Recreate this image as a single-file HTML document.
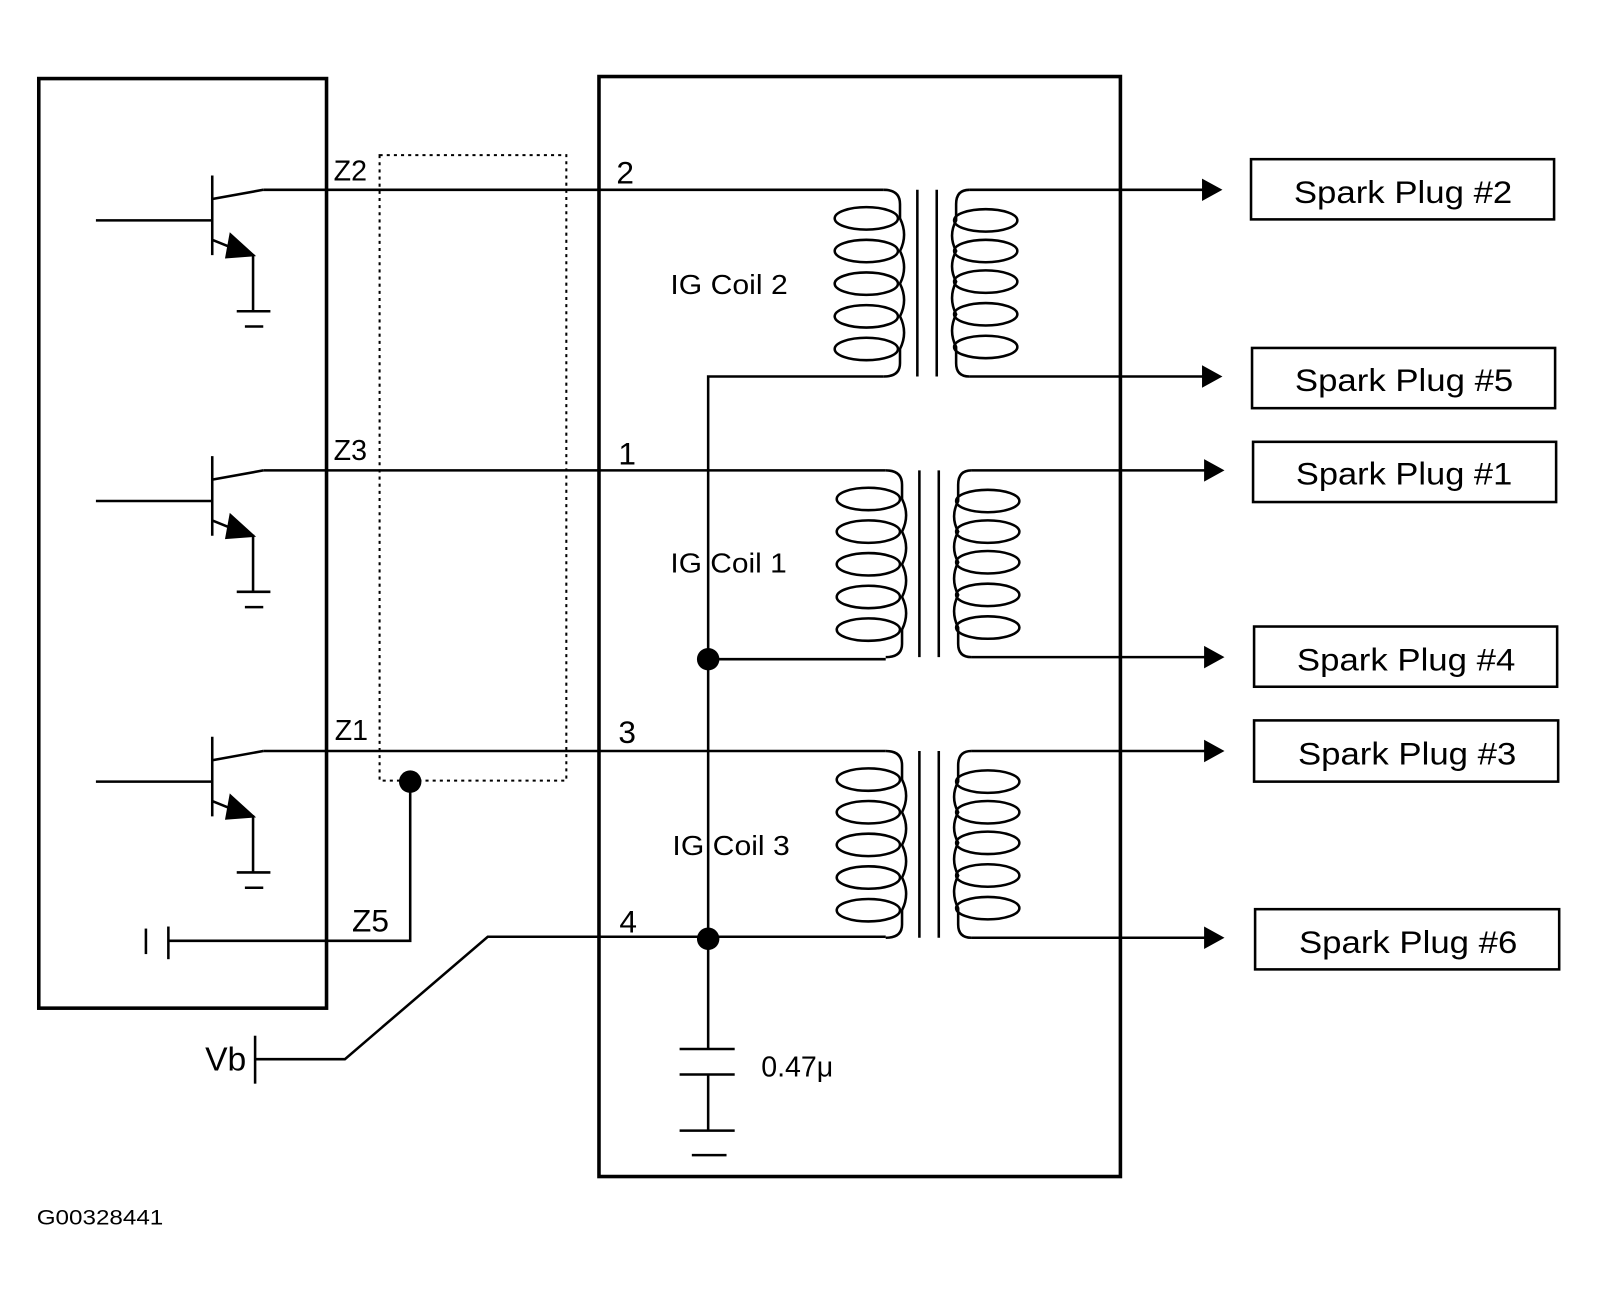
<!DOCTYPE html>
<html><head><meta charset="utf-8"><style>
html,body{margin:0;padding:0;background:#fff;width:1600px;height:1300px;overflow:hidden}
svg{display:block}
text{font-family:"Liberation Sans",sans-serif;fill:#000}
</style></head><body>
<svg width="1600" height="1300" viewBox="0 0 1568 1274" preserveAspectRatio="none" xmlns="http://www.w3.org/2000/svg">
<defs>
<g id="coil" fill="none" stroke="#000" stroke-width="2.5">
  <path d="M866 186 Q882 186 882 200 L882 214 Q890 230 882 246 Q890 262 882 278 Q890 294 882 310 Q890 326 882 342 L882 356 Q882 369 866 369"/>
  <ellipse cx="849" cy="214" rx="31" ry="11"/>
  <ellipse cx="849" cy="246" rx="31" ry="11"/>
  <ellipse cx="849" cy="278" rx="31" ry="11"/>
  <ellipse cx="849" cy="310" rx="31" ry="11"/>
  <ellipse cx="849" cy="342" rx="31" ry="11"/>
  <line x1="899" y1="186" x2="899" y2="369"/>
  <line x1="918" y1="186" x2="918" y2="369"/>
  <path d="M950 186 Q937 186 937 200 L937 216 Q929 231 937 246 Q929 261 937 276 Q929 292 937 308 Q929 324 937 340 L937 356 Q937 369 950 369"/>
  <ellipse cx="966" cy="216" rx="31" ry="11"/>
  <ellipse cx="966" cy="246" rx="31" ry="11"/>
  <ellipse cx="966" cy="276" rx="31" ry="11"/>
  <ellipse cx="966" cy="308" rx="31" ry="11"/>
  <ellipse cx="966" cy="340" rx="31" ry="11"/>
  <line x1="950" y1="186" x2="1180" y2="186"/>
  <line x1="950" y1="369" x2="1180" y2="369"/>
  <path d="M1178 175 L1198 186 L1178 197 Z" fill="#000" stroke="none"/>
  <path d="M1178 358 L1198 369 L1178 380 Z" fill="#000" stroke="none"/>
</g>
<g id="tr" fill="none" stroke="#000" stroke-width="2.5">
  <line x1="94" y1="216" x2="208" y2="216"/>
  <line x1="208" y1="172" x2="208" y2="250"/>
  <path d="M208 195 L258 186"/>
  <path d="M208 235 L240 248 L248 250 L248 305"/>
  <path d="M226 230 L248 250 L222 252 Z" fill="#000"/>
  <line x1="232" y1="305" x2="265" y2="305"/>
  <line x1="240" y1="320" x2="258" y2="320"/>
</g>
</defs>
<g fill="none" stroke="#000">
  <rect x="38" y="77" width="282" height="911" stroke-width="3.5"/>
  <rect x="587" y="75" width="511" height="1078" stroke-width="3.5"/>
  <rect x="372" y="152" width="183" height="613" stroke-width="2" stroke-dasharray="3,4"/>
</g>
<use href="#tr"/>
<use href="#tr" transform="translate(0,275)"/>
<use href="#tr" transform="translate(0,550)"/>
<use href="#coil"/>
<use href="#coil" transform="translate(2,275)"/>
<use href="#coil" transform="translate(2,550)"/>
<g fill="none" stroke="#000" stroke-width="2.5">
  <line x1="258" y1="186" x2="866" y2="186"/>
  <line x1="258" y1="461" x2="868" y2="461"/>
  <line x1="258" y1="736" x2="868" y2="736"/>
  <path d="M866 369 L694 369 L694 1028"/>
  <line x1="694" y1="646" x2="868" y2="646"/>
  <path d="M250 1038 L338 1038 L478 918 L868 918"/>
  <line x1="250" y1="1015" x2="250" y2="1062"/>
  <path d="M402 766 L402 922 L165 922"/>
  <line x1="165" y1="908" x2="165" y2="940"/>
  <line x1="143" y1="910" x2="143" y2="935"/>
  <line x1="666" y1="1028" x2="720" y2="1028"/>
  <line x1="666" y1="1053" x2="720" y2="1053"/>
  <line x1="694" y1="1053" x2="694" y2="1108"/>
  <line x1="666" y1="1108" x2="720" y2="1108"/>
  <line x1="678" y1="1132" x2="712" y2="1132"/>
</g>
<g fill="#000">
  <circle cx="402" cy="766" r="11"/>
  <circle cx="694" cy="646" r="11"/>
  <circle cx="694" cy="920" r="11"/>
</g>
<g fill="none" stroke="#000" stroke-width="2.5">
  <rect x="1226" y="156" width="297" height="59"/>
  <rect x="1227" y="341" width="297" height="59"/>
  <rect x="1228" y="433" width="297" height="59"/>
  <rect x="1229" y="614" width="297" height="59"/>
  <rect x="1229" y="706" width="298" height="60"/>
  <rect x="1230" y="891" width="298" height="59"/>
</g>
<g font-size="31" text-anchor="middle">
  <text x="1375" y="199" textLength="214" lengthAdjust="spacingAndGlyphs">Spark Plug #2</text>
  <text x="1376" y="383" textLength="214" lengthAdjust="spacingAndGlyphs">Spark Plug #5</text>
  <text x="1376" y="475" textLength="212" lengthAdjust="spacingAndGlyphs">Spark Plug #1</text>
  <text x="1378" y="657" textLength="214" lengthAdjust="spacingAndGlyphs">Spark Plug #4</text>
  <text x="1379" y="749" textLength="214" lengthAdjust="spacingAndGlyphs">Spark Plug #3</text>
  <text x="1380" y="934" textLength="214" lengthAdjust="spacingAndGlyphs">Spark Plug #6</text>
</g>
<g font-size="27">
  <text x="657" y="288" textLength="115" lengthAdjust="spacingAndGlyphs">IG Coil 2</text>
  <text x="657" y="561" textLength="114" lengthAdjust="spacingAndGlyphs">IG Coil 1</text>
  <text x="659" y="838" textLength="115" lengthAdjust="spacingAndGlyphs">IG Coil 3</text>
  <text x="327" y="177" font-size="28">Z2</text>
  <text x="327" y="451" font-size="28">Z3</text>
  <text x="328" y="725" font-size="28">Z1</text>
  <text x="345" y="913" font-size="31">Z5</text>
  <text x="604" y="180" font-size="31">2</text>
  <text x="606" y="455" font-size="31">1</text>
  <text x="606" y="728" font-size="31">3</text>
  <text x="607" y="914" font-size="31">4</text>
  <text x="201" y="1049" font-size="33">Vb</text>
  <text x="746" y="1055" font-size="28">0.47μ</text>
  <text x="36" y="1200" font-size="21" textLength="124" lengthAdjust="spacingAndGlyphs">G00328441</text>
</g>
</svg>
</body></html>
